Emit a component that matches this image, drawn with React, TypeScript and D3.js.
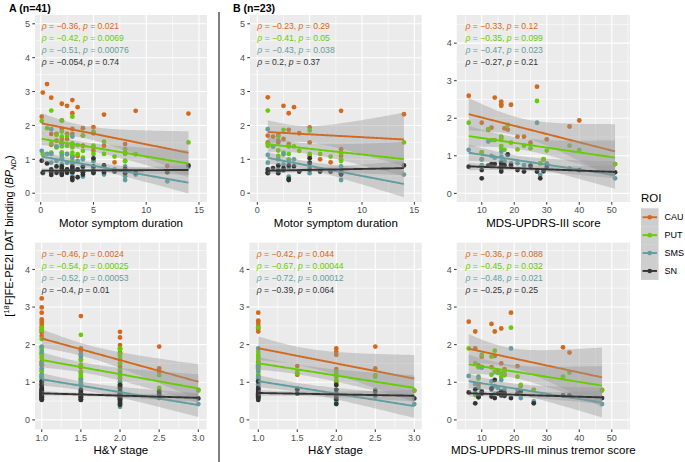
import React from 'react';
import * as d3 from 'd3';

const FONT = '"Liberation Sans", Arial, Helvetica, sans-serif';
const ROIS = ['CAU', 'PUT', 'SMS', 'SN'];
const ROI_COLORS = ['#D2691E', '#66CD00', '#5F9EA0', '#333333'];

// ---------- Panel A (n=41): motor symptom duration ----------
const aDur = [0.1, 0.2, 0.6, 1, 1, 1, 1.5, 1.5, 2, 2, 2, 2, 2, 2, 2.5, 2.5, 2.5, 3, 3, 3, 3, 3, 3, 3.5, 3.5, 4, 4, 4, 5, 5, 5, 5, 6, 6, 7, 8, 8, 8, 9, 12, 14];
const aDurCAU = [2.26, 2.97, 3.22, 2.82, 1.43, 1.75, 1.75, 1.55, 2.64, 2.15, 1.9, 1.6, 1.47, 1.2, 2.58, 1.75, 1.6, 2.75, 2.36, 1.9, 1.75, 1.4, 1.1, 2.54, 1.1, 1.92, 1.7, 1.4, 1.95, 1.77, 1.35, 1.25, 2.32, 1.4, 0.91, 1.45, 1.2, 0.95, 2.43, 0.8, 2.35];
const aDurPUT = [2.13, 1.15, 1.92, 2.44, 1.47, 1.2, 1.72, 1.35, 2.14, 1.82, 1.67, 1.38, 1.2, 1.05, 1.69, 1.4, 1.15, 2.26, 1.47, 1.35, 1.2, 1.1, 0.95, 1.42, 1.15, 1.7, 1.25, 1.05, 1.82, 1.4, 1.16, 0.95, 1.52, 1.16, 1.08, 1.3, 1.16, 0.95, 1.15, 0.62, 1.5];
const aDurSMS = [1.25, 0.59, 1.16, 1.89, 1.16, 0.9, 1.38, 0.95, 1.47, 1.13, 1.0, 0.85, 0.75, 0.65, 1.16, 0.9, 0.7, 1.67, 1.05, 0.88, 0.75, 0.6, 0.5, 0.95, 0.7, 1.0, 0.75, 0.49, 0.95, 0.75, 0.65, 0.59, 0.8, 0.55, 0.7, 0.79, 0.5, 0.39, 0.55, 0.35, 0.78];
const aDurSN = [0.96, 0.61, 0.88, 0.54, 0.7, 0.62, 0.79, 0.6, 0.79, 0.54, 0.65, 0.72, 0.58, 0.62, 0.7, 0.6, 0.66, 0.79, 0.39, 0.45, 0.68, 0.62, 0.72, 0.47, 0.7, 0.79, 0.62, 0.55, 1.03, 0.79, 0.65, 0.6, 0.82, 0.62, 0.64, 0.59, 0.66, 0.72, 0.6, 0.62, 0.82];
const aDurStats = [['−0.36', '0.021'], ['−0.42', '0.0069'], ['−0.51', '0.00076'], ['−0.054', '0.74']];

// ---------- Panel A (n=41): H&Y stage ----------
const aHY = [1, 1, 1, 1, 1, 1, 1, 1, 1, 1, 1, 1, 1, 1, 1, 1.5, 1.5, 1.5, 1.5, 1.5, 1.5, 1.5, 1.5, 1.5, 2, 2, 2, 2, 2, 2, 2, 2, 2, 2, 2, 2, 2, 2.5, 2.5, 2.5, 3];
const aHYCAU = [3.23, 2.99, 2.85, 2.67, 2.61, 2.55, 2.48, 2.39, 2.33, 2.23, 1.75, 1.55, 1.45, 1.3, 1.15, 2.76, 1.9, 1.84, 1.75, 1.6, 1.46, 1.4, 1.25, 1.1, 2.34, 2.19, 1.99, 1.9, 1.8, 1.73, 1.6, 1.5, 1.42, 1.3, 1.2, 1.1, 0.9, 1.95, 1.37, 1.28, 0.8];
const aHYPUT = [2.45, 2.39, 2.15, 1.93, 1.88, 1.77, 1.7, 1.64, 1.5, 1.3, 1.15, 1.0, 0.95, 1.05, 1.2, 2.26, 1.6, 1.46, 1.28, 1.15, 1.06, 1.2, 1.0, 0.95, 1.9, 1.87, 1.75, 1.68, 1.5, 1.33, 1.15, 1.02, 0.88, 0.9, 0.85, 0.95, 0.8, 1.19, 0.85, 0.8, 0.78];
const aHYSMS = [1.95, 1.81, 1.5, 1.37, 1.2, 1.1, 1.0, 0.95, 0.9, 0.84, 0.78, 0.71, 0.65, 0.6, 0.55, 1.73, 1.68, 0.95, 1.06, 0.9, 0.8, 0.7, 0.6, 0.53, 1.24, 1.0, 0.88, 0.8, 0.72, 0.65, 0.6, 0.55, 0.5, 0.45, 0.4, 0.35, 0.7, 0.58, 0.7, 0.62, 0.42];
const aHYSN = [1.02, 0.93, 0.85, 0.78, 0.75, 0.72, 0.7, 0.68, 0.65, 0.62, 0.6, 0.58, 0.55, 0.53, 0.8, 0.8, 0.75, 0.7, 0.65, 0.62, 0.6, 0.55, 0.53, 0.7, 0.93, 0.85, 0.75, 0.7, 0.65, 0.62, 0.6, 0.58, 0.55, 0.5, 0.45, 0.4, 0.68, 0.75, 0.6, 0.68, 0.57];
const aHYStats = [['−0.46', '0.0024'], ['−0.54', '0.00025'], ['−0.52', '0.00053'], ['−0.4', '0.01']];

// ---------- Panel B (n=23): motor symptom duration ----------
const bDur = [1, 1, 1, 1.5, 2, 2, 2, 2.5, 2.5, 3, 3, 3, 3.5, 4, 5, 5, 5, 6, 7, 8, 8, 8, 14];
const bDurCAU = [2.83, 1.5, 1.7, 1.67, 1.72, 1.55, 1.5, 2.58, 1.6, 2.36, 1.87, 1.45, 2.54, 1.77, 1.94, 1.5, 1.1, 1.0, 0.91, 2.43, 1.3, 1.1, 2.33];
const bDurPUT = [2.44, 1.46, 1.4, 1.38, 1.67, 1.26, 1.1, 1.87, 1.2, 1.16, 1.38, 1.0, 1.38, 1.25, 1.85, 1.16, 0.9, 1.16, 1.08, 1.18, 1.0, 0.95, 1.5];
const bDurSMS = [1.89, 1.13, 0.9, 1.38, 1.0, 0.8, 0.7, 1.15, 0.85, 0.49, 0.95, 0.75, 1.0, 0.64, 0.59, 0.9, 0.75, 0.7, 0.65, 0.79, 0.39, 0.6, 0.55];
const bDurSN = [0.59, 0.7, 0.62, 0.74, 0.82, 0.59, 0.65, 0.74, 0.68, 0.82, 0.39, 0.42, 0.79, 0.64, 1.03, 0.89, 0.69, 0.64, 0.64, 0.59, 0.66, 0.55, 0.82];
const bDurStats = [['−0.23', '0.29'], ['−0.41', '0.05'], ['−0.43', '0.038'], ['0.2', '0.37']];

// ---------- Panel B (n=23): H&Y stage ----------
const bHY = [1, 1, 1, 1, 1, 1, 1, 1, 1, 1, 1, 1, 1.5, 1.5, 2, 2, 2, 2, 2, 2, 2.5, 2.5, 3];
const bHYCAU = [2.85, 2.64, 2.58, 2.5, 2.42, 2.35, 1.5, 1.37, 1.15, 0.93, 1.55, 1.45, 1.43, 1.2, 1.9, 1.81, 1.73, 1.35, 1.15, 1.0, 1.95, 1.37, 0.78];
const bHYPUT = [2.46, 1.81, 1.73, 1.68, 1.5, 1.28, 1.2, 1.1, 1.4, 1.0, 1.62, 1.45, 1.28, 1.24, 1.28, 1.22, 0.93, 1.15, 1.05, 1.2, 1.19, 1.15, 0.78];
const bHYSMS = [1.9, 1.42, 1.15, 1.05, 0.95, 0.85, 0.8, 0.75, 0.7, 0.65, 1.3, 1.1, 0.84, 0.8, 0.8, 0.62, 0.53, 0.44, 0.7, 0.5, 0.62, 0.8, 0.42];
const bHYSN = [1.02, 0.85, 0.75, 0.7, 0.68, 0.65, 0.62, 0.6, 0.58, 0.53, 0.8, 0.72, 0.81, 0.7, 0.93, 0.8, 0.62, 0.42, 0.55, 0.7, 0.75, 0.66, 0.57];
const bHYStats = [['−0.42', '0.044'], ['−0.67', '0.00044'], ['−0.72', '0.00012'], ['−0.39', '0.064']];

// ---------- Panel B (n=23): MDS-UPDRS-III score ----------
const bUPDRS = [6, 10, 10, 12, 13, 14, 16, 16, 16, 16, 17, 18, 19, 21, 23, 25, 27, 28, 29, 30, 37, 40, 51];
const bUPDRSCAU = [2.6, 1.88, 0.91, 1.69, 1.75, 2.55, 2.44, 2.37, 2.33, 1.5, 1.73, 1.7, 2.36, 1.51, 1.51, 1.35, 2.84, 0.8, 0.9, 1.44, 1.78, 1.94, 0.78];
const bUPDRSPUT = [1.88, 1.09, 1.1, 1.71, 1.42, 1.42, 1.51, 1.26, 1.45, 1.2, 1.16, 1.82, 1.35, 1.17, 1.27, 1.2, 2.46, 0.8, 0.91, 1.14, 1.27, 1.16, 0.78];
const bUPDRSSMS = [1.16, 0.9, 0.75, 1.38, 1.0, 0.95, 1.11, 0.98, 0.85, 0.75, 0.85, 1.02, 0.8, 0.8, 0.75, 0.7, 1.88, 0.49, 0.58, 0.8, 0.65, 0.62, 0.4];
const bUPDRSSN = [0.71, 0.62, 0.4, 0.74, 0.78, 0.78, 0.8, 0.58, 0.72, 0.65, 0.75, 1.04, 0.75, 0.62, 0.58, 0.74, 0.58, 0.4, 0.6, 0.7, 0.65, 0.62, 0.56];
const bUPDRSStats = [['−0.33', '0.12'], ['−0.35', '0.099'], ['−0.47', '0.023'], ['−0.27', '0.21']];

// ---------- Panel B (n=23): MDS-UPDRS-III minus tremor score ----------
const bMT = [6, 8, 8, 9, 9, 10, 10, 13, 13, 14, 14, 15, 16, 16, 17, 17, 19, 21, 22, 26, 35, 37, 47];
const bMTCAU = [2.61, 2.35, 1.9, 0.93, 1.45, 1.68, 1.4, 2.55, 1.4, 2.35, 1.7, 1.3, 2.43, 1.5, 1.35, 1.2, 2.85, 1.43, 0.9, 0.8, 1.93, 1.79, 0.8];
const bMTPUT = [1.9, 1.5, 0.66, 1.1, 1.4, 1.73, 1.4, 1.68, 1.2, 1.84, 1.28, 1.25, 1.24, 1.15, 1.19, 1.3, 2.45, 1.15, 0.93, 0.8, 1.15, 1.26, 0.78];
const bMTSMS = [1.17, 0.95, 0.7, 1.15, 0.85, 1.4, 0.75, 1.02, 0.8, 0.9, 0.7, 0.85, 1.06, 0.75, 0.8, 0.65, 1.9, 0.8, 0.58, 0.49, 0.65, 0.66, 0.42];
const bMTSN = [0.73, 0.44, 0.81, 0.62, 0.6, 0.75, 0.7, 0.84, 0.62, 1.06, 0.58, 0.7, 0.75, 0.65, 0.64, 0.72, 0.58, 0.7, 0.75, 0.44, 0.65, 0.66, 0.58];
const bMTStats = [['−0.36', '0.088'], ['−0.45', '0.032'], ['−0.48', '0.021'], ['−0.25', '0.25']];

// tick values
const durTicks = [0, 5, 10, 15];
const hyTicks = [1, 1.5, 2, 2.5, 3];
const scoreTicks = [10, 20, 30, 40, 50];
const yTicksTop = [0, 1, 2, 3, 4, 5];
const yTicks4 = [0, 1, 2, 3, 4];

type Box = { l: number; r: number; t: number; b: number };
type PanelDef = {
  xs: number[];
  ys: number[][];
  box: Box;
  xDomain: [number, number];
  yDomain: [number, number];
  xTicks: number[];
  yTicks: number[];
  xFmt: (v: number) => string;
  xTitle: string;
  stats: string[][];
  labelX: number;
};

const TOP: [number, number] = [15, 202];
const BOT: [number, number] = [242.7, 429.3];
const COLS: [number, number][] = [[35, 207], [250, 421.7], [456.7, 630]];
const fmtInt = (v: number) => String(v);
const fmt1 = d3.format('.1f');

const panels: PanelDef[] = [
  { xs: aDur, ys: [aDurCAU, aDurPUT, aDurSMS, aDurSN], box: { l: COLS[0][0], r: COLS[0][1], t: TOP[0], b: TOP[1] }, xDomain: [-0.54, 15.76], yDomain: [-0.26, 5.26], xTicks: durTicks, yTicks: yTicksTop, xFmt: fmtInt, xTitle: 'Motor symptom duration', stats: aDurStats, labelX: 0.1 },
  { xs: bDur, ys: [bDurCAU, bDurPUT, bDurSMS, bDurSN], box: { l: COLS[1][0], r: COLS[1][1], t: TOP[0], b: TOP[1] }, xDomain: [-0.7, 15.7], yDomain: [-0.26, 5.26], xTicks: durTicks, yTicks: yTicksTop, xFmt: fmtInt, xTitle: 'Motor symptom duration', stats: bDurStats, labelX: 0 },
  { xs: bUPDRS, ys: [bUPDRSCAU, bUPDRSPUT, bUPDRSSMS, bUPDRSSN], box: { l: COLS[2][0], r: COLS[2][1], t: TOP[0], b: TOP[1] }, xDomain: [2.3, 55.6], yDomain: [-0.23, 4.75], xTicks: scoreTicks, yTicks: yTicks4, xFmt: fmtInt, xTitle: 'MDS-UPDRS-III score', stats: bUPDRSStats, labelX: 5 },
  { xs: aHY, ys: [aHYCAU, aHYPUT, aHYSMS, aHYSN], box: { l: COLS[0][0], r: 206.7, t: BOT[0], b: BOT[1] }, xDomain: [0.914, 3.107], yDomain: [-0.25, 4.71], xTicks: hyTicks, yTicks: yTicks4, xFmt: fmt1, xTitle: 'H&Y stage', stats: aHYStats, labelX: 1 },
  { xs: bHY, ys: [bHYCAU, bHYPUT, bHYSMS, bHYSN], box: { l: 249.3, r: COLS[1][1], t: BOT[0], b: BOT[1] }, xDomain: [0.885, 3.095], yDomain: [-0.25, 4.71], xTicks: hyTicks, yTicks: yTicks4, xFmt: fmt1, xTitle: 'H&Y stage', stats: bHYStats, labelX: 0.98 },
  { xs: bMT, ys: [bMTCAU, bMTPUT, bMTSMS, bMTSN], box: { l: COLS[2][0], r: COLS[2][1], t: BOT[0], b: BOT[1] }, xDomain: [2.3, 55.6], yDomain: [-0.25, 4.71], xTicks: scoreTicks, yTicks: yTicks4, xFmt: fmtInt, xTitle: 'MDS-UPDRS-III minus tremor score', stats: bMTStats, labelX: 5 },
];

function tQuantile975(df: number) {
  const z = 1.959964;
  return z + (z ** 3 + z) / (4 * df) + (5 * z ** 5 + 16 * z ** 3 + 3 * z) / (96 * df * df) + (3 * z ** 7 + 19 * z ** 5 + 17 * z ** 3 - 15 * z) / (384 * df ** 3);
}

function linFit(xs: number[], ys: number[]) {
  const n = xs.length;
  const mx = d3.mean(xs) as number;
  const my = d3.mean(ys) as number;
  let sxx = 0, sxy = 0;
  xs.forEach((x, i) => { sxx += (x - mx) ** 2; sxy += (x - mx) * (ys[i] - my); });
  const b = sxy / sxx;
  const a = my - b * mx;
  let sse = 0;
  xs.forEach((x, i) => { sse += (ys[i] - a - b * x) ** 2; });
  const s = Math.sqrt(sse / (n - 2));
  const t = tQuantile975(n - 2);
  const [x0, x1] = d3.extent(xs) as [number, number];
  const grid = d3.range(81).map((k) => x0 + ((x1 - x0) * k) / 80);
  return grid.map((x) => {
    const yhat = a + b * x;
    const se = s * Math.sqrt(1 / n + (x - mx) ** 2 / sxx);
    return { x, y: yhat, lo: yhat - t * se, hi: yhat + t * se };
  });
}

function minorOf(ticks: number[], domain: [number, number]) {
  const step = ticks[1] - ticks[0];
  const out: number[] = [];
  for (let v = ticks[0] - step / 2; v <= ticks[ticks.length - 1] + step / 2 + 1e-9; v += step) {
    if (v > domain[0] && v < domain[1]) out.push(v);
  }
  return out;
}

function Panel({ p, idx }: { p: PanelDef; idx: number }) {
  const x = d3.scaleLinear().domain(p.xDomain).range([p.box.l, p.box.r]);
  const y = d3.scaleLinear().domain(p.yDomain).range([p.box.b, p.box.t]);
  const clipId = `clip${idx}`;
  const xMinor = minorOf(p.xTicks, p.xDomain);
  const yMinor = minorOf(p.yTicks, p.yDomain);
  const fits = p.ys.map((ys) => linFit(p.xs, ys));
  const area = d3.area<{ x: number; lo: number; hi: number }>().x((d) => x(d.x)).y0((d) => y(d.lo)).y1((d) => y(d.hi));
  const line = d3.line<{ x: number; y: number }>().x((d) => x(d.x)).y((d) => y(d.y));
  const w = p.box.r - p.box.l;
  const h = p.box.b - p.box.t;
  return (
    <g>
      <defs>
        <clipPath id={clipId}>
          <rect x={p.box.l} y={p.box.t} width={w} height={h} />
        </clipPath>
      </defs>
      <rect x={p.box.l} y={p.box.t} width={w} height={h} fill="#EBEBEB" />
      {xMinor.map((v) => <line key={'xm' + v} x1={x(v)} x2={x(v)} y1={p.box.t} y2={p.box.b} stroke="#fff" strokeWidth={0.55} />)}
      {yMinor.map((v) => <line key={'ym' + v} y1={y(v)} y2={y(v)} x1={p.box.l} x2={p.box.r} stroke="#fff" strokeWidth={0.55} />)}
      {p.xTicks.map((v) => <line key={'xM' + v} x1={x(v)} x2={x(v)} y1={p.box.t} y2={p.box.b} stroke="#fff" strokeWidth={1.1} />)}
      {p.yTicks.map((v) => <line key={'yM' + v} y1={y(v)} y2={y(v)} x1={p.box.l} x2={p.box.r} stroke="#fff" strokeWidth={1.1} />)}
      <g clipPath={`url(#${clipId})`}>
        {p.ys.map((ys, r) => (
          <g key={'pts' + r}>
            {ys.map((v, i) => <circle key={i} cx={x(p.xs[i])} cy={y(v)} r={2.4} fill={ROI_COLORS[r]} />)}
          </g>
        ))}
        {fits.map((f, r) => (
          <g key={'fit' + r}>
            <path d={area(f) as string} fill="#999999" fillOpacity={0.4} />
            <path d={line(f) as string} fill="none" stroke={ROI_COLORS[r]} strokeWidth={1.9} />
          </g>
        ))}
      </g>
      {p.stats.map((s, r) => (
        <text key={'st' + r} x={x(p.labelX)} y={p.box.t + 11 + r * 12 + 3.1} fontSize={8.6} fill={ROI_COLORS[r]} fontFamily={FONT}>
          <tspan fontStyle="italic">ρ</tspan> = {s[0]}, <tspan fontStyle="italic">p</tspan> = {s[1]}
        </text>
      ))}
      {p.yTicks.map((v) => (
        <g key={'yt' + v}>
          <line x1={p.box.l - 2.7} x2={p.box.l} y1={y(v)} y2={y(v)} stroke="#333" strokeWidth={1} />
          <text x={p.box.l - 5} y={y(v) + 3.2} textAnchor="end" fontSize={9} fill="#4D4D4D" fontFamily={FONT}>{v}</text>
        </g>
      ))}
      {p.xTicks.map((v) => (
        <g key={'xt' + v}>
          <line x1={x(v)} x2={x(v)} y1={p.box.b} y2={p.box.b + 2.7} stroke="#333" strokeWidth={1} />
          <text x={x(v)} y={p.box.b + 11.4} textAnchor="middle" fontSize={9} fill="#4D4D4D" fontFamily={FONT}>{p.xFmt(v)}</text>
        </g>
      ))}
      <text x={(p.box.l + p.box.r) / 2} y={p.box.b + 24.5} textAnchor="middle" fontSize={11.5} fill="#000" fontFamily={FONT}>{p.xTitle}</text>
    </g>
  );
}

function Legend() {
  const lx = 641;
  const top = 208.3;
  const kh = 17.9;
  const kw = 17.5;
  return (
    <g fontFamily={FONT}>
      <text x={lx} y={202} fontSize={11.5} fill="#000">ROI</text>
      {ROIS.map((name, i) => {
        const cy = top + i * kh + kh / 2;
        return (
          <g key={name}>
            <rect x={lx} y={top + i * kh} width={kw} height={kh} fill="#F2F2F2" />
            <rect x={lx} y={top + i * kh} width={kw} height={kh} fill="#999999" fillOpacity={0.4} />
            <line x1={lx + 1.5} x2={lx + kw - 1.5} y1={cy} y2={cy} stroke={ROI_COLORS[i]} strokeWidth={1.9} />
            <circle cx={lx + kw / 2} cy={cy} r={2.3} fill={ROI_COLORS[i]} />
            <text x={lx + kw + 6} y={cy + 3.2} fontSize={9} fill="#000">{name}</text>
          </g>
        );
      })}
    </g>
  );
}

export default function App() {
  return (
    <svg width={685} height={462} style={{ position: 'absolute', left: 0, top: 0, background: '#fff' }} xmlns="http://www.w3.org/2000/svg">
      <rect x={0} y={0} width={685} height={462} fill="#fff" />
      {panels.map((p, i) => <Panel key={i} p={p} idx={i} />)}
      <line x1={219} x2={219} y1={12} y2={462} stroke="#000" strokeWidth={1} />
      <text x={9} y={11.5} fontSize={10.6} fontWeight="bold" fontFamily={FONT}>A (n=41)</text>
      <text x={233} y={11.5} fontSize={10.6} fontWeight="bold" fontFamily={FONT}>B (n=23)</text>
      <text transform="translate(13,236) rotate(-90)" textAnchor="middle" fontSize={11} fontFamily={FONT} fill="#000">
        [<tspan fontSize={7.5} dy={-4}>18</tspan><tspan dy={4}>F]FE-PE2I DAT binding (</tspan><tspan fontStyle="italic">BP</tspan><tspan fontSize={7.5} fontStyle="italic" dy={2.5}>ND</tspan><tspan dy={-2.5}>)</tspan>
      </text>
      <Legend />
    </svg>
  );
}
